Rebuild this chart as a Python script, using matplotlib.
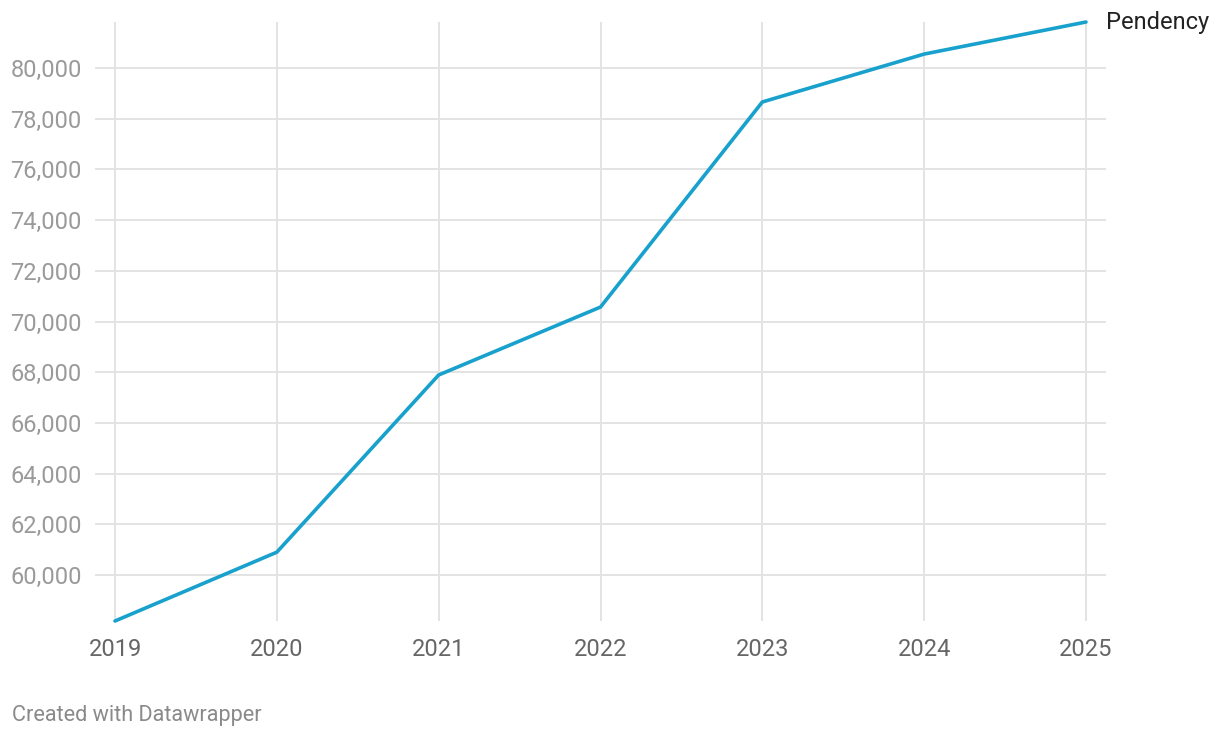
import matplotlib
matplotlib.use("Agg")
import matplotlib.pyplot as plt
from matplotlib.ticker import FuncFormatter

years = [2019, 2020, 2021, 2022, 2023, 2024, 2025]
pendency = [58185, 60900, 67890, 70570, 78660, 80550, 81815]
y_ticks = [60000, 62000, 64000, 66000, 68000, 70000, 72000, 74000, 76000, 78000, 80000]
series_label = "Pendency"
credit = "Created with Datawrapper"

plt.rcParams['font.family'] = ['Roboto', 'DejaVu Sans']

W, H = 1220, 738
fig = plt.figure(figsize=(W / 100, H / 100), dpi=100)
left, right, top, bottom = 95, 1106, 22, 621
ax = fig.add_axes([left / W, 1 - bottom / H, (right - left) / W, (bottom - top) / H])

px_per_year = (1086 - 115) / 6
pad = 20 / px_per_year
ax.set_xlim(years[0] - pad, years[-1] + pad)
ax.set_ylim(min(pendency), max(pendency))

grid_c = '#e3e3e3'
for yv in y_ticks:
    ax.axhline(yv, color=grid_c, lw=1.4, zorder=1)
for xv in years:
    ax.axvline(xv, color=grid_c, lw=1.4, zorder=1)

ax.plot(years, pendency, color='#18a1cd', lw=2.6, solid_capstyle='round',
        solid_joinstyle='round', zorder=3, clip_on=False)

for s in ax.spines.values():
    s.set_visible(False)
ax.set_xticks(years)
ax.set_yticks(y_ticks)
ax.yaxis.set_major_formatter(FuncFormatter(lambda v, p: f"{int(v):,}"))
ax.tick_params(axis='y', length=0, pad=9.5, labelsize=17, labelcolor='#9a9a9a')
ax.tick_params(axis='x', length=0, pad=12, labelsize=17, labelcolor='#666666')

fig.text(1106 / W, 1 - 22 / H, series_label, fontsize=17, color='#222222',
         ha='left', va='center')
fig.text(12 / W, 1 - 715 / H, credit, fontsize=15.6, color='#8a8a8a',
         ha='left', va='center')

fig.savefig("out.png", dpi=100)
